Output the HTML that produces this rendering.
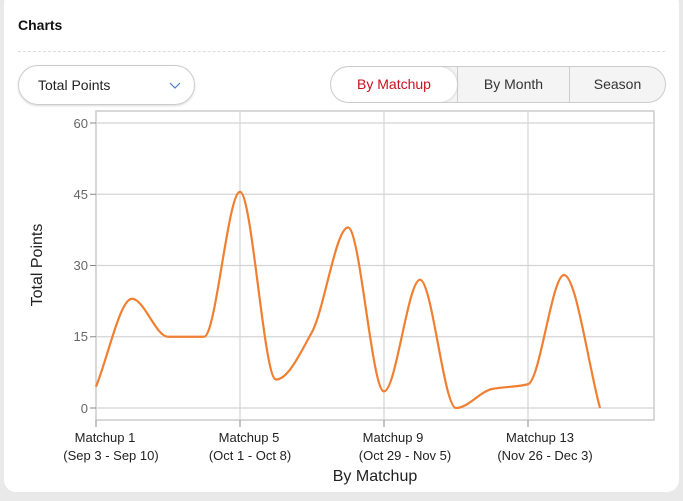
<!DOCTYPE html>
<html><head><style>
body{margin:0;width:683px;height:501px;background:#e9e9e9;font-family:"Liberation Sans",sans-serif;overflow:hidden}
.card{position:absolute;left:4px;top:-8px;width:675px;height:500px;background:#fff;border-radius:12px}
.t{position:absolute;left:18px;top:17px;font-weight:bold;font-size:14px;color:#111}
.hr{position:absolute;left:18px;top:51px;width:647px;border-top:1px dashed #ddd}
.dd{position:absolute;left:18px;top:65px;width:175px;height:38px;border:1px solid #ccc;border-radius:20px;box-shadow:0 1px 2px rgba(0,0,0,.15)}
.dd span{position:absolute;left:19px;top:11px;font-size:14px;color:#222}
.seg{position:absolute;left:330px;top:66px;width:334px;height:35px;border:1px solid #ccc;border-radius:19px;overflow:hidden;background:#f4f4f4;display:flex}
.seg div{height:35px;line-height:35px;text-align:center;font-size:14px;color:#333;border-left:1px solid #ccc}
</style></head><body>
<div class="card"></div>
<div class="t">Charts</div>
<div class="hr"></div>
<div class="dd"><span>Total Points</span><svg style="position:absolute;left:150px;top:16px" width="12" height="8"><path d="M1 1 L6 6 L11 1" fill="none" stroke="#4a7fc1" stroke-width="1.2"/></svg></div>
<div class="seg"><div style="width:126px;border:none;background:#fff;color:#c8101e;box-shadow:0 0 3px rgba(0,0,0,.2);border-radius:18px">By Matchup</div><div style="width:111px">By Month</div><div style="width:95px">Season</div></div>
<svg width="683" height="501" style="position:absolute;left:0;top:0" font-family="Liberation Sans, sans-serif">
<rect x="96" y="111" width="558" height="309" fill="none" stroke="#ccc" stroke-width="1.5"/>
<g stroke="#d4d4d4" stroke-width="1.2">
<line x1="96" y1="123" x2="654" y2="123"/><line x1="96" y1="194.25" x2="654" y2="194.25"/><line x1="96" y1="265.5" x2="654" y2="265.5"/><line x1="96" y1="336.75" x2="654" y2="336.75"/><line x1="96" y1="408" x2="654" y2="408"/>
<line x1="240" y1="111" x2="240" y2="420"/><line x1="384" y1="111" x2="384" y2="420"/><line x1="528" y1="111" x2="528" y2="420"/>
</g>
<g stroke="#888" stroke-width="1">
<line x1="90" y1="123" x2="96" y2="123"/><line x1="90" y1="194.25" x2="96" y2="194.25"/><line x1="90" y1="265.5" x2="96" y2="265.5"/><line x1="90" y1="336.75" x2="96" y2="336.75"/><line x1="90" y1="408" x2="96" y2="408"/>
<line x1="96" y1="420" x2="96" y2="427"/><line x1="240" y1="420" x2="240" y2="427"/><line x1="384" y1="420" x2="384" y2="427"/><line x1="528" y1="420" x2="528" y2="427"/>
</g>
<g font-size="13" fill="#666" text-anchor="end">
<text x="88" y="128">60</text><text x="88" y="199">45</text><text x="88" y="270">30</text><text x="88" y="341">15</text><text x="88" y="413">0</text>
</g>
<g font-size="13" fill="#222" text-anchor="middle">
<text x="105" y="442">Matchup 1</text><text x="111" y="460">(Sep 3 - Sep 10)</text>
<text x="249" y="442">Matchup 5</text><text x="250" y="460">(Oct 1 - Oct 8)</text>
<text x="393" y="442">Matchup 9</text><text x="405" y="460">(Oct 29 - Nov 5)</text>
<text x="540" y="442">Matchup 13</text><text x="545" y="460">(Nov 26 - Dec 3)</text>
</g>
<text x="375" y="481" font-size="16" fill="#222" text-anchor="middle">By Matchup</text>
<text transform="translate(42,265) rotate(-90)" font-size="16" fill="#222" text-anchor="middle">Total Points</text>
<path id="ln" fill="none" stroke="#f07f32" stroke-width="2.2"/>
</svg>
<script>
var v=[4.5,23,15,15,45.5,6,16,38,3.5,27,0,4,5,28,0];
var x=v.map((_,i)=>96+36*i),y=v.map(a=>408-a*4.75),n=v.length;
var d=[],m=[];for(var i=0;i<n-1;i++)d.push((y[i+1]-y[i])/36);
m[0]=d[0];m[n-1]=d[n-2];
for(i=1;i<n-1;i++){if(d[i-1]*d[i]<=0)m[i]=0;else{m[i]=2/(1/d[i-1]+1/d[i]);}}
var p="M"+x[0]+" "+y[0];
for(i=0;i<n-1;i++){p+=" C"+(x[i]+12)+" "+(y[i]+m[i]*12)+" "+(x[i+1]-12)+" "+(y[i+1]-m[i+1]*12)+" "+x[i+1]+" "+y[i+1];}
document.getElementById("ln").setAttribute("d",p);
</script>
</body></html>
